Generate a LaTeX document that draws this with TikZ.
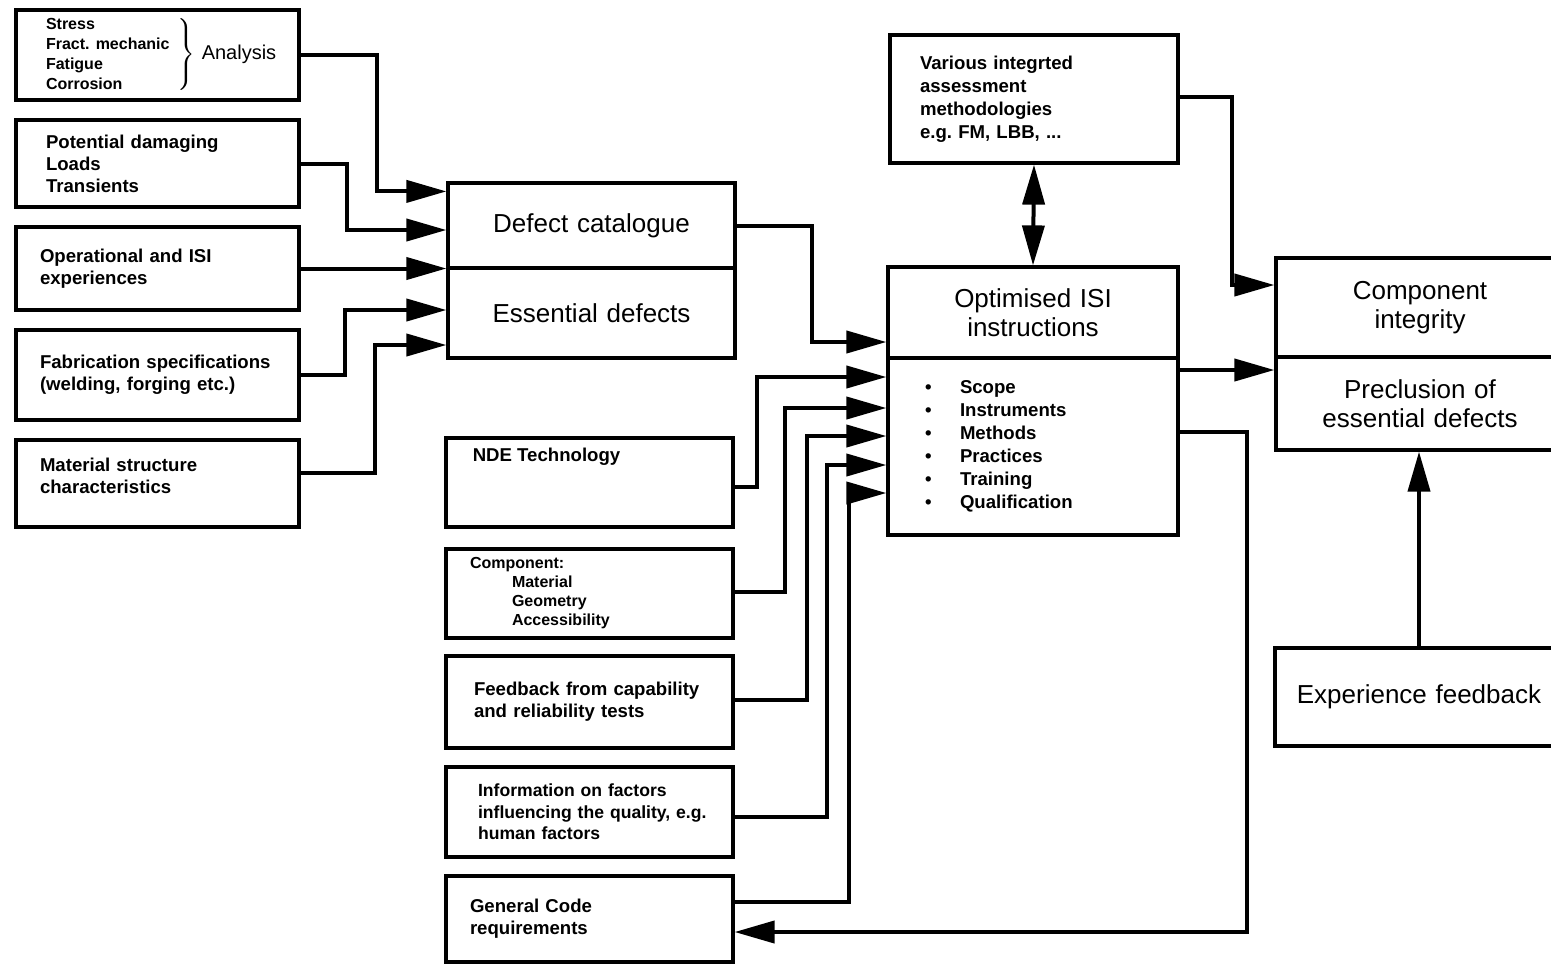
\documentclass[tikz,border=0pt]{standalone}
\usepackage{fontspec}
\setmainfont{Liberation Sans}
\usetikzlibrary{arrows.meta,calc}

\frenchspacing
\newcommand\puce{\makebox[17.5pt][l]{\textbullet}}

\tikzset{
  blok/.style={draw, line width=1.6pt, rectangle, inner ysep=0pt, inner xsep=14pt, align=left},
  petit/.style={font=\fontsize{9.3}{11}\selectfont\bfseries},
  grand/.style={font=\fontsize{13}{14.5}\selectfont, align=center},
  gauche/.style={blok, petit, inner xsep=12pt, text width=117.5pt, minimum height=#1},
  milieu/.style={blok, petit, inner xsep=12pt, text width=119.5pt, minimum height=#1},
  fleche/.style={line width=2pt, -{Triangle[length=20pt,width=11pt]}},
  allerretour/.style={line width=2pt, {Triangle[length=20pt,width=11pt]}-{Triangle[length=20pt,width=11pt]}},
}

\begin{document}
\begin{tikzpicture}[x={(0.5pt,0)}, y={(0,-0.5pt)}]
    \useasboundingbox (0,0) rectangle (1551,966);

    % Colonne de gauche
    \node[gauche=45pt] (ana) at (157.5,55) {\mbox{\hspace{3pt}{\fontsize{8}{10}\selectfont\begin{tabular}{@{}l@{\hspace{3pt}}}Stress\\Fract. mechanic\\Fatigue\\Corrosion\end{tabular}}$\left.\rule[-16pt]{0pt}{35pt}\right\}$\hspace{3pt}{\fontsize{10}{12}\selectfont\mdseries Analysis}}};
    \node[gauche=43.5pt] (pot) at (157.5,163.5) {\hspace*{3pt}Potential damaging\\\hspace*{3pt}Loads\\\hspace*{3pt}Transients};
    \node[gauche=41.5pt] (ope) at (157.5,268.5) {Operational and ISI\\experiences};
    \node[gauche=45pt] (fab) at (157.5,375) {Fabrication specifications\\(welding, forging etc.)};
    \node[gauche=43.5pt, text depth=19pt] (mat) at (157.5,483.5) {Material structure\\characteristics};

    % Le catalogue
    \node[blok, grand, text width=115.5pt, minimum height=42.5pt] (defcat) at (591.5,225.5) {Defect catalogue};
    \node[blok, grand, text width=115.5pt, minimum height=45pt] (essdef) at (591.5,313) {Essential defects};

    % Colonne du milieu
    \node[milieu=44.5pt] (nde) at (589.5,482.5) {};
    \node[petit, anchor=north west, inner sep=0pt] (ndetxt) at ($(nde.north west)+(28,11)$) {NDE Technology};
    \node[milieu=44.5pt, font=\fontsize{8}{9.5}\selectfont\bfseries] (cpn) at (589.5,593.5) {Component:\\\hspace*{21pt}Material\\\hspace*{21pt}Geometry\\\hspace*{21pt}Accessibility};
    \node[milieu=46pt] (feed) at (589.5,702) {\hspace*{2pt}Feedback from capability\\\hspace*{2pt}and reliability tests};
    \node[milieu=45pt, font=\fontsize{8.8}{10.8}\selectfont\bfseries] (info) at (589.5,812) {\hspace*{4pt}Information on factors\\\hspace*{4pt}influencing the quality, e.g.\\\hspace*{4pt}human factors};
    \node[milieu=43pt] (gen) at (589.5,919) {General Code\\requirements};

    % Les instructions
    \node[blok, petit, inner xsep=15pt, text width=114pt, minimum height=64pt, font=\fontsize{9.3}{11.5}\selectfont\bfseries] (var) at (1034,99) {Various integrted\\assessment\\methodologies\\e.g. FM, LBB, ...};
    \node[blok, grand, text width=117pt, minimum height=45.5pt] (optt) at (1033,312.5) {Optimised ISI\\instructions};
    \node[blok, inner xsep=18.5pt, text width=108pt, minimum height=88.5pt, font=\fontsize{9.3}{11.5}\selectfont\bfseries] (optb) at (1033,446.5) {\puce Scope\\\puce Instruments\\\puce Methods\\\puce Practices\\\puce Training\\\puce Qualification};

    % Colonne de droite
    \node[blok, grand, text width=116pt, minimum height=49.5pt] (cmpt) at (1420,307.5) {Component\\integrity};
    \node[blok, grand, text width=116pt, minimum height=46.5pt] (cmpb) at (1420,403.5) {Preclusion of\\essential defects};
    \node[blok, grand, inner xsep=5pt, text width=134pt, minimum height=49pt] (exp) at (1419,697) {Experience feedback};

    % Vers le catalogue
    \draw[fleche] (ana.east) -- ++(76,0) |- ($(defcat.north west)+(0,10)$);
    \draw[fleche] (pot.east) -- ++(46,0) |- ($(defcat.west)+(0,4.5)$);
    \draw[fleche] (ope.east) -- (ope.east -| defcat.west);
    \draw[fleche] (fab.east) -- ++(44,0) |- ($(essdef.west)+(0,-3)$);
    \draw[fleche] ($(mat.east)+(0,-11)$) -- ++(74,0) |- ($(essdef.west)+(0,32)$);

    % Vers les instructions
    \draw[fleche] (defcat.east) -- ++(75,0) |- ($(optt.west)+(0,29.5)$);
    \draw[fleche] ($(nde.east)+(0,4.5)$) -- ++(22,0) |- ($(optb.west)+(0,-69.5)$);
    \draw[fleche] ($(cpn.east)+(0,-1.5)$) -- ++(50,0) |- ($(optb.west)+(0,-38.5)$);
    \draw[fleche] ($(feed.east)+(0,-2)$) -- ++(72,0) |- ($(optb.west)+(0,-10.5)$);
    \draw[fleche] ($(info.east)+(0,5)$) -- ++(92,0) |- ($(optb.west)+(0,18.5)$);
    \draw[fleche] ($(gen.east)+(0,-17)$) -- ++(114,0) |- ($(optb.west)+(0,46.5)$);
    \draw[allerretour] (var.south) -- (optt.north);

    % Vers l'integrite
    \coordinate (sortie) at ($(optb.east)+(0,-76.5)$);
    \draw[fleche] ($(var.east)+(0,-2)$) -- ++(52,0) |- ($(cmpt.west)+(0,-22.5)$);
    \draw[fleche] (sortie) -- (sortie -| cmpb.west);
    \draw[fleche] (exp.north) -- (exp.north |- cmpb.south);

    % Retour vers le code
    \draw[fleche] ($(optb.east)+(0,-14.5)$) -- ++(67,0) |- ($(gen.east)+(0,13)$);

\end{tikzpicture}
\end{document}
